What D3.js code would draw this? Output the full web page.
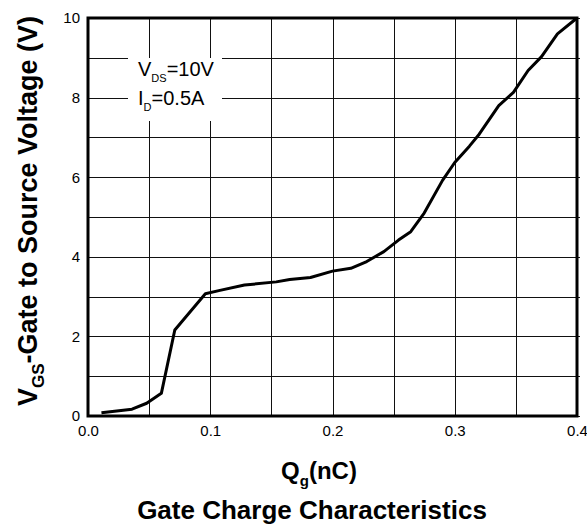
<!DOCTYPE html>
<html>
<head>
<meta charset="utf-8">
<script src="https://cdn.jsdelivr.net/npm/d3@7"></script>
<style>
  body { margin: 0; background: #fff; }
  svg { display: block; font-family: Arial, "Liberation Sans", sans-serif; }
  .grid line { stroke: #111; stroke-width: 1; shape-rendering: crispEdges; }
  .grid path { display: none; }
  .ticks path, .ticks line { display: none; }
  .ticks text { font-size: 15px; fill: #000; }
</style>
</head>
<body>
<svg id="chart" width="587" height="527"></svg>
<script>
// gate charge curve
let qg  = [0.011, 0.036, 0.048, 0.060, 0.071, 0.096, 0.107, 0.128, 0.154, 0.165, 0.182, 0.200,
           0.215, 0.228, 0.242, 0.254, 0.264, 0.275, 0.290, 0.300, 0.312, 0.320, 0.336, 0.348,
           0.360, 0.371, 0.384, 0.400];
let vgs = [0.08, 0.17, 0.32, 0.57, 2.16, 3.07, 3.15, 3.29, 3.37, 3.43, 3.48, 3.64,
           3.71, 3.88, 4.13, 4.42, 4.63, 5.10, 5.92, 6.37, 6.78, 7.08, 7.80, 8.13,
           8.68, 9.03, 9.60, 10.0];

let xTicks = [0.0, 0.1, 0.2, 0.3, 0.4];
let yTicks = [0, 2, 4, 6, 8, 10];
let legendLines = [["V", "DS", "=10V"], ["I", "D", "=0.5A"]];

let margin = {left: 88, top: 18, right: 10, bottom: 111};
let width = 587 - margin.left - margin.right;
let height = 527 - margin.top - margin.bottom;

function init() {
    const svg = d3.select("#chart");
    const g = svg.append("g").attr("transform", "translate(" + margin.left + "," + margin.top + ")");

    const x = d3.scaleLinear().domain([0, 0.4]).range([0, width]);
    const y = d3.scaleLinear().domain([0, 10]).range([height, 0]);

    // grid
    g.append("g").attr("class", "grid")
        .attr("transform", "translate(0," + height + ")")
        .call(d3.axisBottom(x).ticks(8).tickSize(-height).tickFormat(""));
    g.append("g").attr("class", "grid")
        .call(d3.axisRight(y).ticks(10).tickSize(width + 3).tickFormat(""));

    // tick labels
    g.append("g").attr("class", "ticks")
        .attr("transform", "translate(0," + height + ")")
        .call(d3.axisBottom(x).tickValues(xTicks).tickSize(0).tickPadding(9).tickFormat(d3.format(".1f")));
    g.append("g").attr("class", "ticks")
        .call(d3.axisLeft(y).tickValues(yTicks).tickSize(0).tickPadding(8));

    // legend box
    g.append("rect")
        .attr("x", 128 - margin.left).attr("y", 58 - margin.top)
        .attr("width", 94).attr("height", 63)
        .attr("fill", "#fff");
    legendLines.forEach((l, i) => {
        const t = g.append("text")
            .attr("x", 138 - margin.left)
            .attr("y", 76 - margin.top + i * 29)
            .style("font-size", "20px");
        t.append("tspan").text(l[0]);
        t.append("tspan").attr("dy", 6).style("font-size", "11px").text(l[1]);
        t.append("tspan").attr("dy", -6).text(l[2]);
    });

    // curve
    const line = d3.line().x(i => x(qg[i])).y(i => y(vgs[i]));
    g.append("path")
        .attr("d", line(d3.range(qg.length)))
        .attr("fill", "none")
        .attr("stroke", "#000")
        .attr("stroke-width", 3)
        .attr("stroke-linejoin", "round");

    // frame
    g.append("rect")
        .attr("width", width).attr("height", height)
        .attr("fill", "none").attr("stroke", "#000").attr("stroke-width", 3);

    // y title
    const yt = svg.append("text")
        .attr("transform", "translate(37,211) rotate(-90)")
        .attr("text-anchor", "middle")
        .style("font-size", "27px").style("font-weight", "bold");
    yt.append("tspan").text("V");
    yt.append("tspan").attr("dy", 7).style("font-size", "17px").text("GS");
    yt.append("tspan").attr("dy", -7).text("-Gate to Source Voltage (V)");

    // x title
    const xt = svg.append("text")
        .attr("x", 319).attr("y", 479)
        .attr("text-anchor", "middle")
        .style("font-size", "24px").style("font-weight", "bold");
    xt.append("tspan").text("Q");
    xt.append("tspan").attr("dy", 7).style("font-size", "15px").text("g");
    xt.append("tspan").attr("dy", -7).text("(nC)");

    svg.append("text")
        .attr("x", 312).attr("y", 519)
        .attr("text-anchor", "middle")
        .style("font-size", "26px").style("font-weight", "bold")
        .text("Gate Charge Characteristics");
}

window.onload = function () {
    init();
};
</script>
</body>
</html>
